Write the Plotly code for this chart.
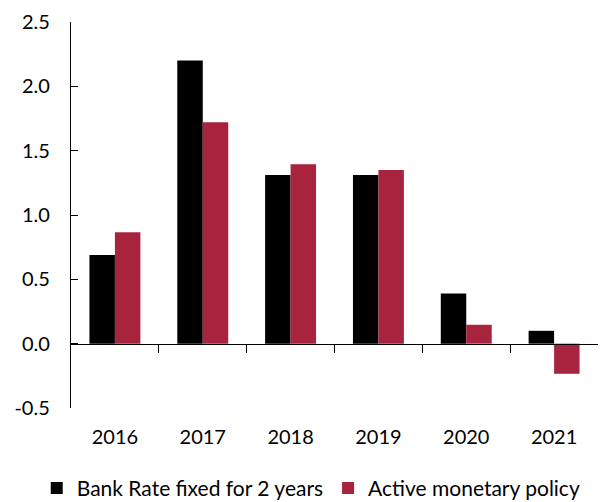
import plotly.graph_objects as go

years = ["2016", "2017", "2018", "2019", "2020", "2021"]
bank_rate_fixed = [0.69, 2.20, 1.31, 1.31, 0.39, 0.10]
active_policy = [0.865, 1.72, 1.395, 1.35, 0.147, -0.234]
series_names = ["Bank Rate fixed for 2 years", "Active monetary policy"]
colors = ["#000000", "#A8243E"]
y_ticks = [-0.5, 0.0, 0.5, 1.0, 1.5, 2.0, 2.5]

ymin, ymax = -0.5, 2.5
W, H = 601, 502
mt, mb, ml, mr = 22, 94, 71, 3
font = dict(family="Lato, 'Open Sans', sans-serif", size=20, color="#000000")
legend_font = dict(family="Lato, 'Open Sans', sans-serif", size=21, color="#000000")

n = len(years)
idx = list(range(n))
boundaries = [i + 0.5 for i in idx[:-1]]

fig = go.Figure()
fig.add_trace(go.Bar(x=years, y=bank_rate_fixed, name=series_names[0],
                     marker=dict(color=colors[0], line=dict(width=0))))
fig.add_trace(go.Bar(x=years, y=active_policy, name=series_names[1],
                     marker=dict(color=colors[1], line=dict(width=0))))
# invisible trace that carries the zero-line axis with boundary ticks
fig.add_trace(go.Scatter(x=idx, y=[0] * n, mode="none", showlegend=False,
                         hoverinfo="skip", xaxis="x2"))

zero_pos = (0 - ymin) / (ymax - ymin)

fig.update_layout(
    width=W, height=H,
    margin=dict(t=mt, b=mb, l=ml, r=mr, pad=0, autoexpand=False),
    plot_bgcolor="white", paper_bgcolor="white",
    font=font,
    barmode="group", bargap=0.42, bargroupgap=0,
    xaxis=dict(type="category", categoryorder="array", categoryarray=years,
               range=[-0.5, n - 0.5], showline=False, ticks="", showgrid=False,
               zeroline=False, tickfont=font, ticklabelstandoff=15,
               automargin=False),
    xaxis2=dict(type="linear", range=[-0.5, n - 0.5], overlaying="x",
                anchor="free", position=zero_pos,
                showline=True, linecolor="#000000", linewidth=1.4,
                tickmode="array", tickvals=boundaries,
                ticks="outside", ticklen=8, tickwidth=1.4, tickcolor="#000000",
                showticklabels=False, showgrid=False, zeroline=False,
                automargin=False),
    yaxis=dict(range=[ymin, ymax], tickmode="array", tickvals=y_ticks,
               ticktext=[f"{v:.1f}" for v in y_ticks],
               showline=True, linecolor="#000000", linewidth=1.4,
               ticks="inside", ticklen=7, tickwidth=1.4, tickcolor="#000000",
               showgrid=False, zeroline=False, tickfont=font,
               ticklabelstandoff=16, automargin=False),
    legend=dict(orientation="h", x=-0.065, xanchor="left", y=-0.155, yanchor="top",
                font=legend_font, itemwidth=30, traceorder="normal",
                bgcolor="rgba(0,0,0,0)"),
)

fig.write_html("out.html",
               config={"displayModeBar": False},
               post_script="document.body.style.margin='0';document.body.style.overflow='hidden';")
